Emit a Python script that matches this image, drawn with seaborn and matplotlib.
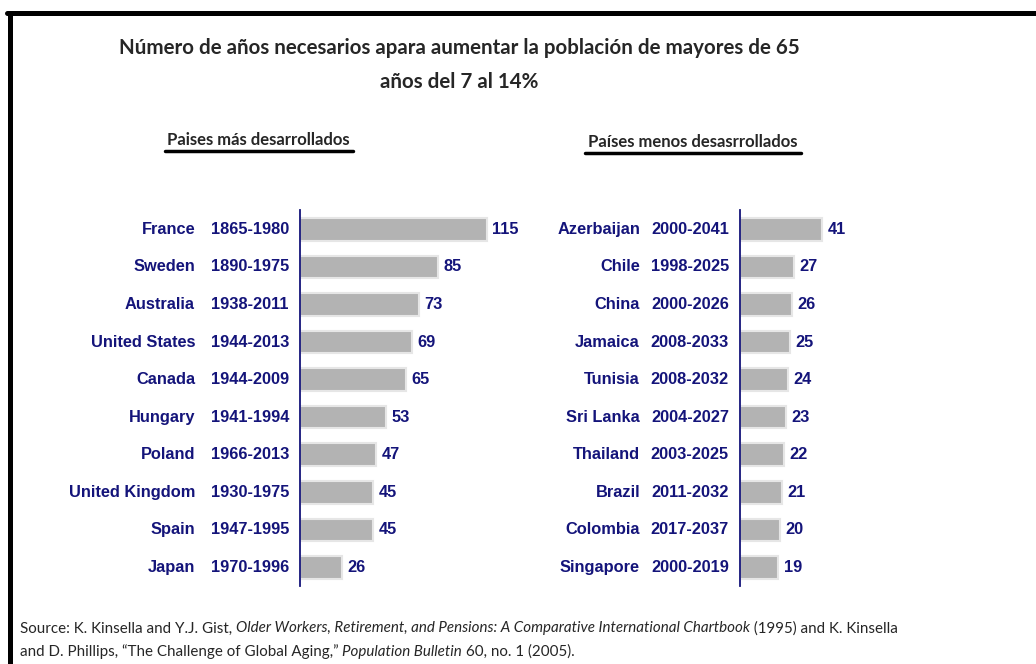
import seaborn as sns
import pandas as pd
import numpy as np
import matplotlib.pyplot as plt
import matplotlib.transforms as mtransforms
from matplotlib.lines import Line2D

# data
dev_countries = ["France", "Sweden", "Australia", "United States", "Canada",
                 "Hungary", "Poland", "United Kingdom", "Spain", "Japan"]
dev_years = ["1865-1980", "1890-1975", "1938-2011", "1944-2013", "1944-2009",
             "1941-1994", "1966-2013", "1930-1975", "1947-1995", "1970-1996"]
dev_values = [115, 85, 73, 69, 65, 53, 47, 45, 45, 26]

less_countries = ["Azerbaijan", "Chile", "China", "Jamaica", "Tunisia",
                  "Sri Lanka", "Thailand", "Brazil", "Colombia", "Singapore"]
less_years = ["2000-2041", "1998-2025", "2000-2026", "2008-2033", "2008-2032",
              "2004-2027", "2003-2025", "2011-2032", "2017-2037", "2000-2019"]
less_values = [41, 27, 26, 25, 24, 23, 22, 21, 20, 19]

sns.set_style("white")
plt.rcParams['font.family'] = ['Liberation Sans', 'DejaVu Sans']
navy = "#14147a"
lab_font = dict(family=['Liberation Sans', 'DejaVu Sans'], weight='bold', size=11.8, color=navy)
cal = ['Lato', 'DejaVu Sans']

fig = plt.figure(figsize=(10.36, 6.64), dpi=100)
ax1 = fig.add_axes([0.2896, 0.117, 0.2037, 0.566])
ax2 = fig.add_axes([0.7143, 0.117, 0.0965, 0.566])


def panel(ax, countries, years, values, xmax, cdx):
    df = pd.DataFrame({"pais": countries, "anos": values})
    sns.barplot(data=df, y="pais", x="anos", orient="h", color="#b3b3b3",
                saturation=1, width=0.6, edgecolor="#e6e6e6", linewidth=1.5, ax=ax)
    ax.set_xlim(0, xmax)
    ax.set_ylim(9.5, -0.5)
    ax.set_xlabel("")
    ax.set_ylabel("")
    ax.set_xticks([])
    for s in ["top", "right", "bottom"]:
        ax.spines[s].set_visible(False)
    ax.spines["left"].set_color(navy)
    ax.spines["left"].set_linewidth(1.3)
    ax.set_yticks(range(len(years)))
    ax.set_yticklabels(years, fontdict=lab_font)
    for t in ax.get_yticklabels():
        t.set_va("center")
    ax.tick_params(axis="y", which="major", length=0, pad=8)
    ax.set_yticks(np.arange(-0.5, 10, 1), minor=True)
    ax.tick_params(axis="y", which="minor", length=5, width=1.3, color=navy, direction="out")
    tr = mtransforms.offset_copy(ax.get_yaxis_transform(), fig=fig, x=cdx, y=0, units="dots")
    for i, c in enumerate(countries):
        ax.text(0, i, c, transform=tr, ha="right", va="center", **lab_font)
    for i, v in enumerate(values):
        ax.annotate(str(v), (v, i), xytext=(4, 0), textcoords="offset points",
                    ha="left", va="center", **lab_font)


panel(ax1, dev_countries, dev_years, dev_values, 130, -105)
panel(ax2, less_countries, less_years, less_values, 50, -100)

# titles
fig.text(0.443, 0.928, "Número de años necesarios apara aumentar la población de mayores de 65",
         ha="center", va="center", fontsize=14.8, weight="bold", family=cal)
fig.text(0.443, 0.876, "años del 7 al 14%", ha="center", va="center",
         fontsize=14.8, weight="bold", family=cal)
fig.text(0.249, 0.789, "Paises más desarrollados", ha="center", va="center",
         fontsize=12, weight="bold", family=cal)
fig.add_artist(Line2D([0.159, 0.341], [0.773, 0.773], color="black", lw=2.5))
fig.text(0.669, 0.786, "Países menos desasrrollados", ha="center", va="center",
         fontsize=12, weight="bold", family=cal)
fig.add_artist(Line2D([0.565, 0.773], [0.770, 0.770], color="black", lw=2.5))

# frame lines (left and top)
fig.add_artist(Line2D([0.0092, 0.0092], [0.0, 0.981], color="black", lw=3.6))
fig.add_artist(Line2D([0.0072, 1.0], [0.981, 0.981], color="black", lw=3.6))

# source, mixed regular / italic pieces chained one after another
src1 = [("Source: K. Kinsella and Y.J. Gist, ", "normal"),
        ("Older Workers, Retirement, and Pensions: A Comparative International Chartbook", "italic"),
        (" (1995) and K. Kinsella", "normal")]
src2 = [("and D. Phillips, \u201cThe Challenge of Global Aging,\u201d ", "normal"),
        ("Population Bulletin", "italic"),
        (" 60, no. 1 (2005).", "normal")]
for line, ypos in [(src1, 0.043), (src2, 0.008)]:
    prev = fig.text(0.019, ypos, line[0][0], fontsize=10.9, style=line[0][1],
                    family=cal, va="bottom")
    for txt, st in line[1:]:
        prev = ax1.annotate(txt, xy=(1, 0), xycoords=prev, va="bottom", ha="left",
                            fontsize=10.9, style=st, family=cal, annotation_clip=False)

plt.savefig("out.png", dpi=100)
